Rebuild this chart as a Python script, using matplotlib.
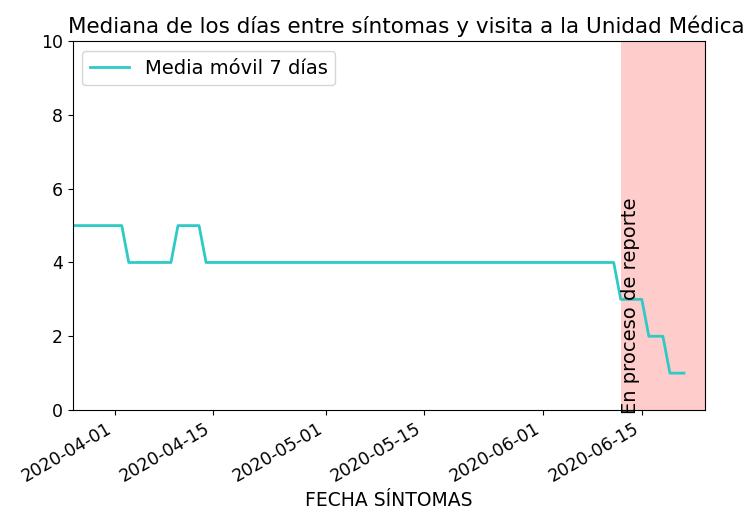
import numpy as np
import pandas as pd
import matplotlib
matplotlib.use("Agg")
import matplotlib.pyplot as plt
import matplotlib.dates as mdates

# --- Datos: mediana (media móvil 7 días) por fecha de síntomas ---
fechas = pd.date_range("2020-03-26", "2020-06-21", freq="D")
mediana = [
    5, 5, 5, 5, 5, 5, 5, 5,
    4, 4, 4, 4, 4, 4, 4,
    5, 5, 5, 5,
    4, 4, 4, 4, 4, 4, 4, 4, 4, 4, 4, 4, 4, 4, 4, 4, 4, 4, 4, 4,
    4, 4, 4, 4, 4, 4, 4, 4, 4, 4, 4, 4, 4, 4, 4, 4, 4, 4, 4, 4,
    4, 4, 4, 4, 4, 4, 4, 4, 4, 4, 4, 4, 4, 4, 4, 4, 4, 4, 4,
    3, 3, 3, 3,
    2, 2, 2,
    1, 1, 1,
]
inicio_reporte = pd.Timestamp("2020-06-12")
fin_eje = pd.Timestamp("2020-06-24")

fig = plt.figure(figsize=(7.48, 5.21), dpi=100)
ax = fig.add_axes([0.097, 0.213, 0.8456, 0.708])

ax.plot(fechas, mediana, color="#2ecac6", linewidth=2, label="Media móvil 7 días")
ax.axvspan(inicio_reporte, fin_eje, color="red", alpha=0.2, linewidth=0)
ax.text(inicio_reporte, 0, "En proceso de reporte", rotation=90, fontsize=14)

ax.set_xlim(fechas[0], fin_eje)
ax.set_ylim(0, 10)
ax.xaxis.set_major_locator(mdates.DayLocator(bymonthday=[1, 15]))
ax.xaxis.set_major_formatter(mdates.DateFormatter("%Y-%m-%d"))
ax.tick_params(labelsize=12.5)
for lbl in ax.get_xticklabels():
    lbl.set_rotation(30)
    lbl.set_ha("right")

ax.set_title("Mediana de los días entre síntomas y visita a la Unidad Médica",
             fontsize=15.5, x=0.527)
ax.set_xlabel("FECHA SÍNTOMAS", fontsize=13.5)
ax.legend(loc="upper left", fontsize=14)

fig.savefig("out.png", dpi=100)
